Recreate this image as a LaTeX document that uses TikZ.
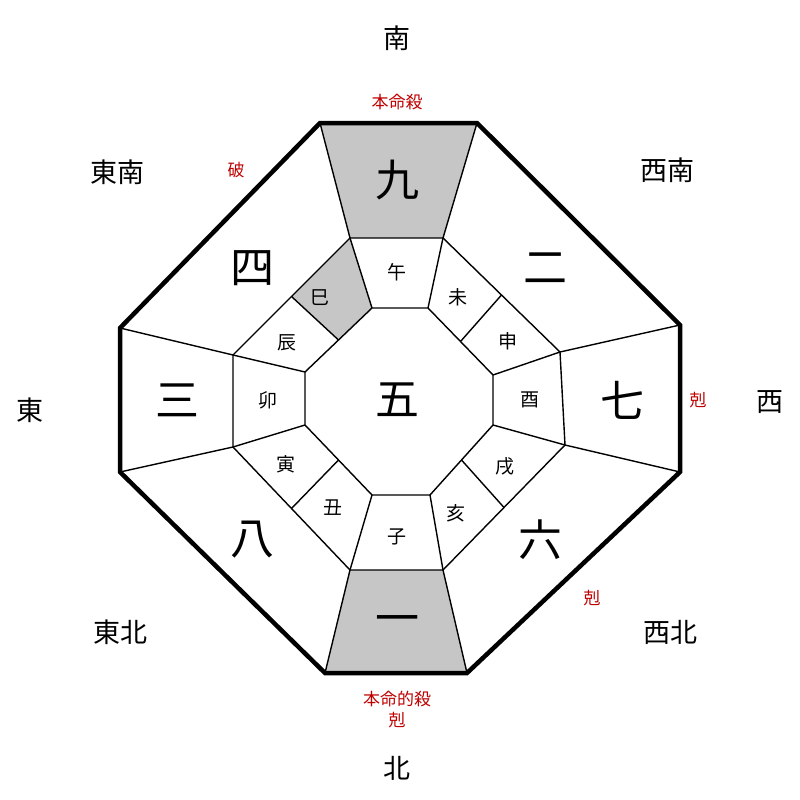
\documentclass[tikz,border=0pt]{standalone}
\usepackage{fontspec}
\setmainfont{Noto Sans CJK JP}
\usetikzlibrary{calc}

\begin{document}
\begin{tikzpicture}[x=1pt, y=-1pt, thin line/.style={line width=1.4pt},
    big/.style={font=\fontsize{44}{44}\selectfont},
    branch/.style={font=\fontsize{19}{19}\selectfont},
    dir/.style={font=\fontsize{27}{27}\selectfont},
    red label/.style={font=\fontsize{17}{17}\selectfont, text=red!75!black}]
\useasboundingbox (0,0) rectangle (800,800);
% octagons
\coordinate (o1) at (320,123); \coordinate (o2) at (477,123);
\coordinate (o3) at (680,325); \coordinate (o4) at (680,472);
\coordinate (o5) at (467,673); \coordinate (o6) at (325,673);
\coordinate (o7) at (120,472); \coordinate (o8) at (120,328);
\coordinate (m1) at (350,238); \coordinate (m2) at (443,238);
\coordinate (m3) at (560,352); \coordinate (m4) at (565,445);
\coordinate (m5) at (443,570); \coordinate (m6) at (350,570);
\coordinate (m7) at (233,447); \coordinate (m8) at (233,355);
\coordinate (i1) at (372,308); \coordinate (i2) at (428,308);
\coordinate (i3) at (493,375); \coordinate (i4) at (493,425);
\coordinate (i5) at (430,495); \coordinate (i6) at (372,495);
\coordinate (i7) at (305,425); \coordinate (i8) at (305,372);
% gray cells
\fill[gray!45] (o1) -- (o2) -- (m2) -- (m1) -- cycle;
\fill[gray!45] (o6) -- (o5) -- (m5) -- (m6) -- cycle;
\fill[gray!45] ($(m8)!0.5!(m1)$) -- (m1) -- (i1) -- ($(i8)!0.5!(i1)$) -- cycle;
% lines
\draw[thin line] (m1) -- (m2) -- (m3) -- (m4) -- (m5) -- (m6) -- (m7) -- (m8) -- cycle;
\draw[thin line] (i1) -- (i2) -- (i3) -- (i4) -- (i5) -- (i6) -- (i7) -- (i8) -- cycle;
\foreach \k in {1,...,8}{
  \draw[thin line] (o\k) -- (m\k);
  \draw[thin line] (m\k) -- (i\k);
}
\foreach \a/\b in {2/3,4/5,6/7,8/1}
  \draw[thin line] ($(m\a)!0.5!(m\b)$) -- ($(i\a)!0.5!(i\b)$);
\draw[line width=4.5pt, line join=miter] (o1) -- (o2) -- (o3) -- (o4) -- (o5) -- (o6) -- (o7) -- (o8) -- cycle;
% stars
\node[big] (s9) at (397,180) {九};
\node[big] (s2) at (545,268) {二};
\node[big] (s7) at (622,400) {七};
\node[big] (s6) at (540,540) {六};
\node[big] (s1) at (397,625) {一};
\node[big] (s8) at (252,540) {八};
\node[big] (s3) at (177,400) {三};
\node[big] (s4) at (252,268) {四};
\node[big] (s5) at (397,400) {五};
% branches
\node[branch] (b1) at (397,272) {午};
\node[branch] (b2) at (458,297) {未};
\node[branch] (b3) at (508,341) {申};
\node[branch] (b4) at (530,400) {酉};
\node[branch] (b5) at (505,466) {戌};
\node[branch] (b6) at (456,513) {亥};
\node[branch] (b7) at (397,537) {子};
\node[branch] (b8) at (333,508) {丑};
\node[branch] (b9) at (286,464) {寅};
\node[branch] (b10) at (268,400) {卯};
\node[branch] (b11) at (287,343) {辰};
\node[branch] (b12) at (320,298) {巳};
% directions
\node[dir] (d1) at (397,38) {南};
\node[dir] (d2) at (667,170) {西南};
\node[dir] (d3) at (770,402) {西};
\node[dir] (d4) at (670,632) {西北};
\node[dir] (d5) at (397,768) {北};
\node[dir] (d6) at (120,632) {東北};
\node[dir] (d7) at (30,410) {東};
\node[dir] (d8) at (117,172) {東南};
% red labels
\node[red label] (r1) at (397,102) {本命殺};
\node[red label] (r2) at (236,170) {破};
\node[red label] (r3) at (698,400) {剋};
\node[red label] (r4) at (592,598) {剋};
\node[red label] (r5) at (397,699) {本命的殺};
\node[red label] (r6) at (397,720) {剋};
\end{tikzpicture}
\end{document}
